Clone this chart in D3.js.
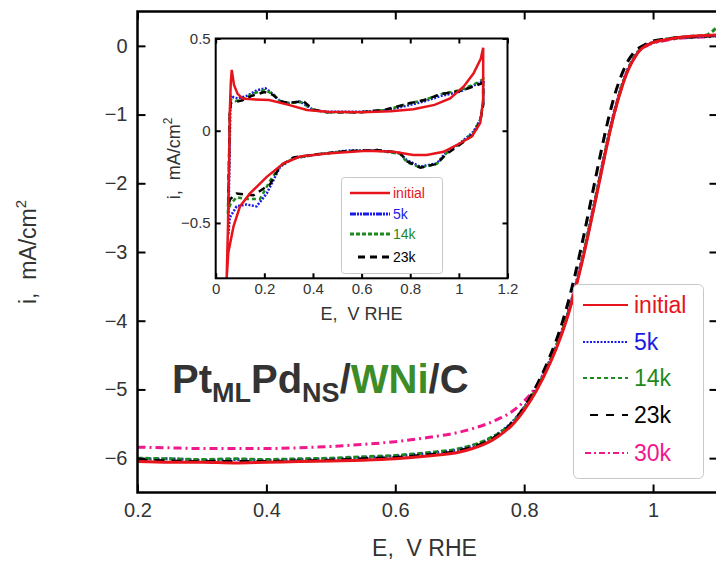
<!DOCTYPE html>
<html><head><meta charset="utf-8">
<script src="https://cdn.jsdelivr.net/npm/d3@7"></script>
<style>
html,body{margin:0;padding:0;background:#fff;}
svg{display:block;font-family:"Liberation Sans",Arial,sans-serif;}
text{white-space:pre;}
</style></head>
<body><svg id="c" width="716" height="574"></svg>
<script>
// ---------- DATA ----------
const seriesNames = ["initial","5k","14k","23k","30k"];
const seriesColors = ["#e8141c","#1a1ae6","#1e8a1e","#000000","#f0188c"];
const xTicks = [0.2,0.4,0.6,0.8,1.0];
const yTicks = [0,-1,-2,-3,-4,-5,-6];
const E = [0.20,0.25,0.30,0.35,0.40,0.45,0.50,0.55,0.60,0.65,0.70,0.72,0.74,0.76,0.78,0.80,0.82,0.84,0.85,0.86,0.87,0.88,0.89,0.90,0.91,0.92,0.93,0.94,0.95,0.96,0.97,0.98,0.99,1.00,1.02,1.04,1.06,1.08,1.10];
const iInitial = [-6.05,-6.06,-6.06,-6.07,-6.06,-6.05,-6.04,-6.03,-6.01,-5.97,-5.91,-5.86,-5.79,-5.68,-5.53,-5.30,-5.00,-4.62,-4.40,-4.15,-3.86,-3.52,-3.14,-2.72,-2.28,-1.83,-1.38,-0.98,-0.65,-0.38,-0.19,-0.06,0.01,0.05,0.09,0.12,0.14,0.15,0.16];
const i5k = [-6.02,-6.01,-6.03,-6.02,-6.03,-6.02,-6.01,-5.99,-5.97,-5.93,-5.87,-5.82,-5.75,-5.64,-5.49,-5.26,-4.96,-4.58,-4.36,-4.11,-3.82,-3.48,-3.10,-2.68,-2.24,-1.79,-1.35,-0.95,-0.62,-0.36,-0.18,-0.05,0.01,0.05,0.09,0.12,0.13,0.14,0.15];
const i14k = [-6.00,-6.01,-6.02,-6.01,-6.02,-6.01,-6.00,-5.98,-5.96,-5.92,-5.86,-5.81,-5.74,-5.64,-5.50,-5.27,-4.97,-4.59,-4.37,-4.12,-3.83,-3.49,-3.11,-2.69,-2.25,-1.80,-1.36,-0.96,-0.63,-0.37,-0.18,-0.05,0.01,0.05,0.10,0.12,0.14,0.15,0.28];
const i23k = [-6.03,-6.04,-6.05,-6.05,-6.05,-6.04,-6.03,-6.01,-5.99,-5.95,-5.89,-5.84,-5.77,-5.66,-5.50,-5.26,-4.93,-4.52,-4.28,-4.00,-3.67,-3.29,-2.87,-2.42,-1.96,-1.51,-1.09,-0.73,-0.45,-0.24,-0.10,-0.02,0.03,0.07,0.10,0.12,0.13,0.14,0.15];
const i30k = [-5.84,-5.85,-5.86,-5.86,-5.86,-5.85,-5.83,-5.80,-5.76,-5.70,-5.62,-5.57,-5.51,-5.43,-5.33,-5.17,-4.94,-4.58,-4.37,-4.12,-3.84,-3.50,-3.12,-2.70,-2.26,-1.81,-1.37,-0.97,-0.64,-0.37,-0.19,-0.06,0.00,0.04,0.08,0.11,0.12,0.13,0.14];

// inset CV loops: [E, i] in order around the loop
const insetXTicks = [0,0.2,0.4,0.6,0.8,1,1.2];
const insetYTicks = [0.5,0,-0.5];
const cvInitial = [[0.045,-0.80],[0.050,-0.55],[0.055,-0.20],[0.058,0.10],[0.062,0.26],[0.066,0.33],[0.075,0.25],[0.09,0.20],[0.11,0.175],[0.15,0.17],[0.22,0.166],[0.30,0.14],[0.375,0.112],[0.457,0.103],[0.60,0.10],[0.72,0.105],[0.813,0.116],[0.90,0.14],[0.964,0.175],[1.02,0.24],[1.06,0.31],[1.09,0.39],[1.10,0.45],[1.10,0.17],[1.088,0.043],[1.054,-0.03],[1.005,-0.068],[0.937,-0.114],[0.868,-0.132],[0.813,-0.132],[0.731,-0.114],[0.621,-0.108],[0.457,-0.123],[0.347,-0.14],[0.279,-0.177],[0.21,-0.25],[0.141,-0.34],[0.10,-0.41],[0.073,-0.52],[0.052,-0.66],[0.045,-0.80]];
const cv5k = [[0.052,-0.56],[0.056,-0.20],[0.060,0.10],[0.063,0.19],[0.075,0.18],[0.092,0.175],[0.13,0.19],[0.17,0.22],[0.205,0.23],[0.235,0.20],[0.265,0.16],[0.30,0.15],[0.347,0.158],[0.402,0.112],[0.457,0.103],[0.594,0.103],[0.70,0.11],[0.80,0.14],[0.855,0.158],[0.93,0.19],[1.005,0.212],[1.06,0.245],[1.10,0.27],[1.10,0.148],[1.088,0.06],[1.06,-0.005],[1.005,-0.068],[0.95,-0.114],[0.909,-0.177],[0.841,-0.195],[0.786,-0.159],[0.758,-0.123],[0.663,-0.105],[0.539,-0.108],[0.402,-0.132],[0.32,-0.15],[0.265,-0.195],[0.21,-0.34],[0.168,-0.41],[0.127,-0.40],[0.086,-0.41],[0.058,-0.47],[0.052,-0.56]];
const cv14k = [[0.050,-0.45],[0.054,-0.20],[0.058,0.10],[0.062,0.17],[0.08,0.16],[0.11,0.17],[0.15,0.20],[0.20,0.22],[0.235,0.20],[0.265,0.16],[0.30,0.15],[0.35,0.155],[0.402,0.112],[0.457,0.10],[0.594,0.10],[0.70,0.112],[0.80,0.15],[0.855,0.165],[0.93,0.20],[1.005,0.22],[1.06,0.25],[1.10,0.28],[1.10,0.15],[1.088,0.06],[1.06,-0.01],[1.005,-0.07],[0.95,-0.12],[0.909,-0.18],[0.841,-0.20],[0.786,-0.17],[0.758,-0.125],[0.663,-0.107],[0.539,-0.11],[0.402,-0.13],[0.32,-0.15],[0.265,-0.19],[0.224,-0.27],[0.182,-0.37],[0.12,-0.37],[0.086,-0.36],[0.06,-0.40],[0.050,-0.45]];
const cv23k = [[0.052,-0.40],[0.055,-0.15],[0.058,0.10],[0.062,0.15],[0.08,0.155],[0.11,0.165],[0.15,0.19],[0.20,0.21],[0.235,0.195],[0.265,0.16],[0.30,0.15],[0.36,0.16],[0.402,0.115],[0.457,0.10],[0.594,0.10],[0.70,0.115],[0.80,0.15],[0.855,0.165],[0.93,0.20],[1.005,0.215],[1.06,0.24],[1.10,0.26],[1.10,0.14],[1.088,0.05],[1.06,-0.02],[1.005,-0.075],[0.95,-0.125],[0.909,-0.18],[0.841,-0.20],[0.786,-0.165],[0.758,-0.12],[0.663,-0.105],[0.539,-0.11],[0.402,-0.13],[0.32,-0.145],[0.265,-0.19],[0.224,-0.29],[0.155,-0.35],[0.12,-0.345],[0.086,-0.34],[0.06,-0.37],[0.052,-0.40]];

// ---------- LAYOUT ----------
const svg = d3.select("#c");
const M = {l:137.5, r:717.5, t:11.5, b:492.5};
const x = d3.scaleLinear().domain([0.2,1.1]).range([M.l, M.r]);
const y = d3.scaleLinear().domain([-6.5,0.5]).range([M.b, M.t]);
const textCol = "#333";

svg.append("clipPath").attr("id","mc").append("rect")
  .attr("x",M.l).attr("y",M.t).attr("width",M.r-M.l).attr("height",M.b-M.t);

// main curves
const mainSeries = [iInitial,i5k,i14k,i23k,i30k];
const dashes = [null,"2,2","5,3","10,7","8,4,2,4"];
const line = d3.line().x((d,k)=>x(E[k])).y(d=>y(d)).curve(d3.curveMonotoneX);
const g = svg.append("g").attr("clip-path","url(#mc)");
[4,1,2,3,0].forEach(s=>{
  g.append("path").datum(mainSeries[s]).attr("d",line)
   .attr("fill","none").attr("stroke",seriesColors[s]).attr("stroke-width",3)
   .attr("stroke-dasharray",dashes[s]);
});

// axes helper
function axes(sel, xs, ys, xt, yt, tl, fs, fmtx, fmty, pad){
  const bx = d3.axisBottom(xs).tickValues(xt).tickSizeInner(-tl).tickSizeOuter(0).tickPadding(pad).tickFormat(fmtx);
  const tx = d3.axisTop(xs).tickValues(xt).tickSizeInner(-tl).tickSizeOuter(0).tickFormat("");
  const ly = d3.axisLeft(ys).tickValues(yt).tickSizeInner(-tl).tickSizeOuter(0).tickPadding(pad).tickFormat(fmty);
  const ry = d3.axisRight(ys).tickValues(yt).tickSizeInner(-tl).tickSizeOuter(0).tickFormat("");
  const r = ys.range(), rx = xs.range();
  sel.append("g").attr("transform",`translate(0,${r[0]})`).call(bx);
  sel.append("g").attr("transform",`translate(0,${r[1]})`).call(tx);
  sel.append("g").attr("transform",`translate(${rx[0]},0)`).call(ly);
  sel.append("g").attr("transform",`translate(${rx[1]},0)`).call(ry);
  sel.selectAll(".domain").remove();
  sel.selectAll(".tick line").attr("stroke","#000").attr("stroke-width",2);
  sel.selectAll(".tick text").attr("fill",textCol).style("font-size",fs+"px").style("font-family","Liberation Sans, Arial, sans-serif");
}
const ax = svg.append("g");
axes(ax, x, y, xTicks, yTicks, 8, 20, d=>d===1?"1":d3.format(".1f")(d), d=>d3.format("d")(d), 10);
svg.append("rect").attr("x",M.l).attr("y",M.t).attr("width",M.r-M.l).attr("height",M.b-M.t)
  .attr("fill","none").attr("stroke","#000").attr("stroke-width",2.5);

// main labels
svg.append("text").attr("x",(M.l+M.r)/2-3).attr("y",556).attr("text-anchor","middle")
  .attr("fill",textCol).style("font-size","23px").text("E,  V RHE");
const yl = svg.append("text").attr("transform",`translate(36,${(M.t+M.b)/2}) rotate(-90)`)
  .attr("text-anchor","middle").attr("fill",textCol).style("font-size","23px");
yl.append("tspan").text("i,  mA/cm");
yl.append("tspan").attr("dy",-10).style("font-size","15px").text("2");

// title
const tt = svg.append("text").attr("x",172).attr("y",393).attr("fill",textCol)
  .style("font-size","40px").style("font-weight","bold");
tt.append("tspan").text("Pt");
tt.append("tspan").attr("dy",9).style("font-size","27px").text("ML");
tt.append("tspan").attr("dy",-9).text("Pd");
tt.append("tspan").attr("dy",9).style("font-size","27px").text("NS");
tt.append("tspan").attr("dy",-9).text("/");
tt.append("tspan").attr("fill","#3c8c28").text("WNi");
tt.append("tspan").text("/C");

// main legend
const lg = svg.append("g");
lg.append("rect").attr("x",573.5).attr("y",284.5).attr("width",130).attr("height",194).attr("rx",5)
  .attr("fill","#fff").attr("stroke","#c8c8c8").attr("stroke-width",1);
const legY = [305,342,378,415,453];
const legDash = [null,"2,1.5","4,3","8,8","6,3,2,3"];
seriesNames.forEach((n,k)=>{
  lg.append("line").attr("x1",k===3?590:k===4?585:583).attr("x2",628).attr("y1",legY[k]).attr("y2",legY[k])
    .attr("stroke",seriesColors[k]).attr("stroke-width",2).attr("stroke-dasharray",legDash[k]);
  lg.append("text").attr("x",634).attr("y",legY[k]+8).attr("fill",seriesColors[k])
    .style("font-size","23px").text(n);
});

// ---------- INSET ----------
const I = {l:215.7, r:507.5, t:38.5, b:278.3};
const xi = d3.scaleLinear().domain([0,1.2]).range([I.l,I.r]);
const yi = d3.scaleLinear().domain([-0.8,0.5]).range([I.b,I.t]);
svg.append("rect").attr("x",I.l).attr("y",I.t).attr("width",I.r-I.l).attr("height",I.b-I.t).attr("fill","#fff");
svg.append("clipPath").attr("id","ic").append("rect")
  .attr("x",I.l).attr("y",I.t).attr("width",I.r-I.l).attr("height",I.b-I.t);
const gi = svg.append("g").attr("clip-path","url(#ic)");
const cvs = [cvInitial,cv5k,cv14k,cv23k];
const cvDash = [null,"2,1.5","4,3","7,5"];
const lineI = d3.line().x(d=>xi(d[0])).y(d=>yi(d[1]));
[1,2,3,0].forEach(s=>{
  gi.append("path").datum(cvs[s]).attr("d",lineI).attr("fill","none")
    .attr("stroke",seriesColors[s]).attr("stroke-width",2.5).attr("stroke-dasharray",cvDash[s]);
});
const axi = svg.append("g");
axes(axi, xi, yi, insetXTicks, insetYTicks, 5, 15, d=>d===0?"0":d===1?"1":d3.format(".1f")(d), d=>d===0?"0":d3.format(".1f")(d), 5);
svg.append("rect").attr("x",I.l).attr("y",I.t).attr("width",I.r-I.l).attr("height",I.b-I.t)
  .attr("fill","none").attr("stroke","#000").attr("stroke-width",2);
svg.append("text").attr("x",(I.l+I.r)/2).attr("y",320).attr("text-anchor","middle")
  .attr("fill",textCol).style("font-size","18px").text("E,  V RHE");
const yli = svg.append("text").attr("transform",`translate(180,${(I.t+I.b)/2}) rotate(-90)`)
  .attr("text-anchor","middle").attr("fill",textCol).style("font-size","18px");
yli.append("tspan").text("i,  mA/cm");
yli.append("tspan").attr("dy",-8).style("font-size","12px").text("2");

// inset legend
const ilg = svg.append("g");
ilg.append("rect").attr("x",341.5).attr("y",177.5).attr("width",101).attr("height",96).attr("rx",3)
  .attr("fill","#fff").attr("stroke","#c8c8c8").attr("stroke-width",1);
const iLegY = [193,214,234,257];
const iLegDash = [null,"6,1,2,1,2,1","4,2","7,5"];
seriesNames.slice(0,4).forEach((n,k)=>{
  ilg.append("line").attr("x1",k===3?358:350).attr("x2",390).attr("y1",iLegY[k]).attr("y2",iLegY[k])
    .attr("stroke",seriesColors[k]).attr("stroke-width",k===0?2.5:3).attr("stroke-dasharray",iLegDash[k]);
  ilg.append("text").attr("x",393).attr("y",iLegY[k]+5).attr("fill",seriesColors[k])
    .style("font-size","14px").text(n);
});
</script></body></html>
